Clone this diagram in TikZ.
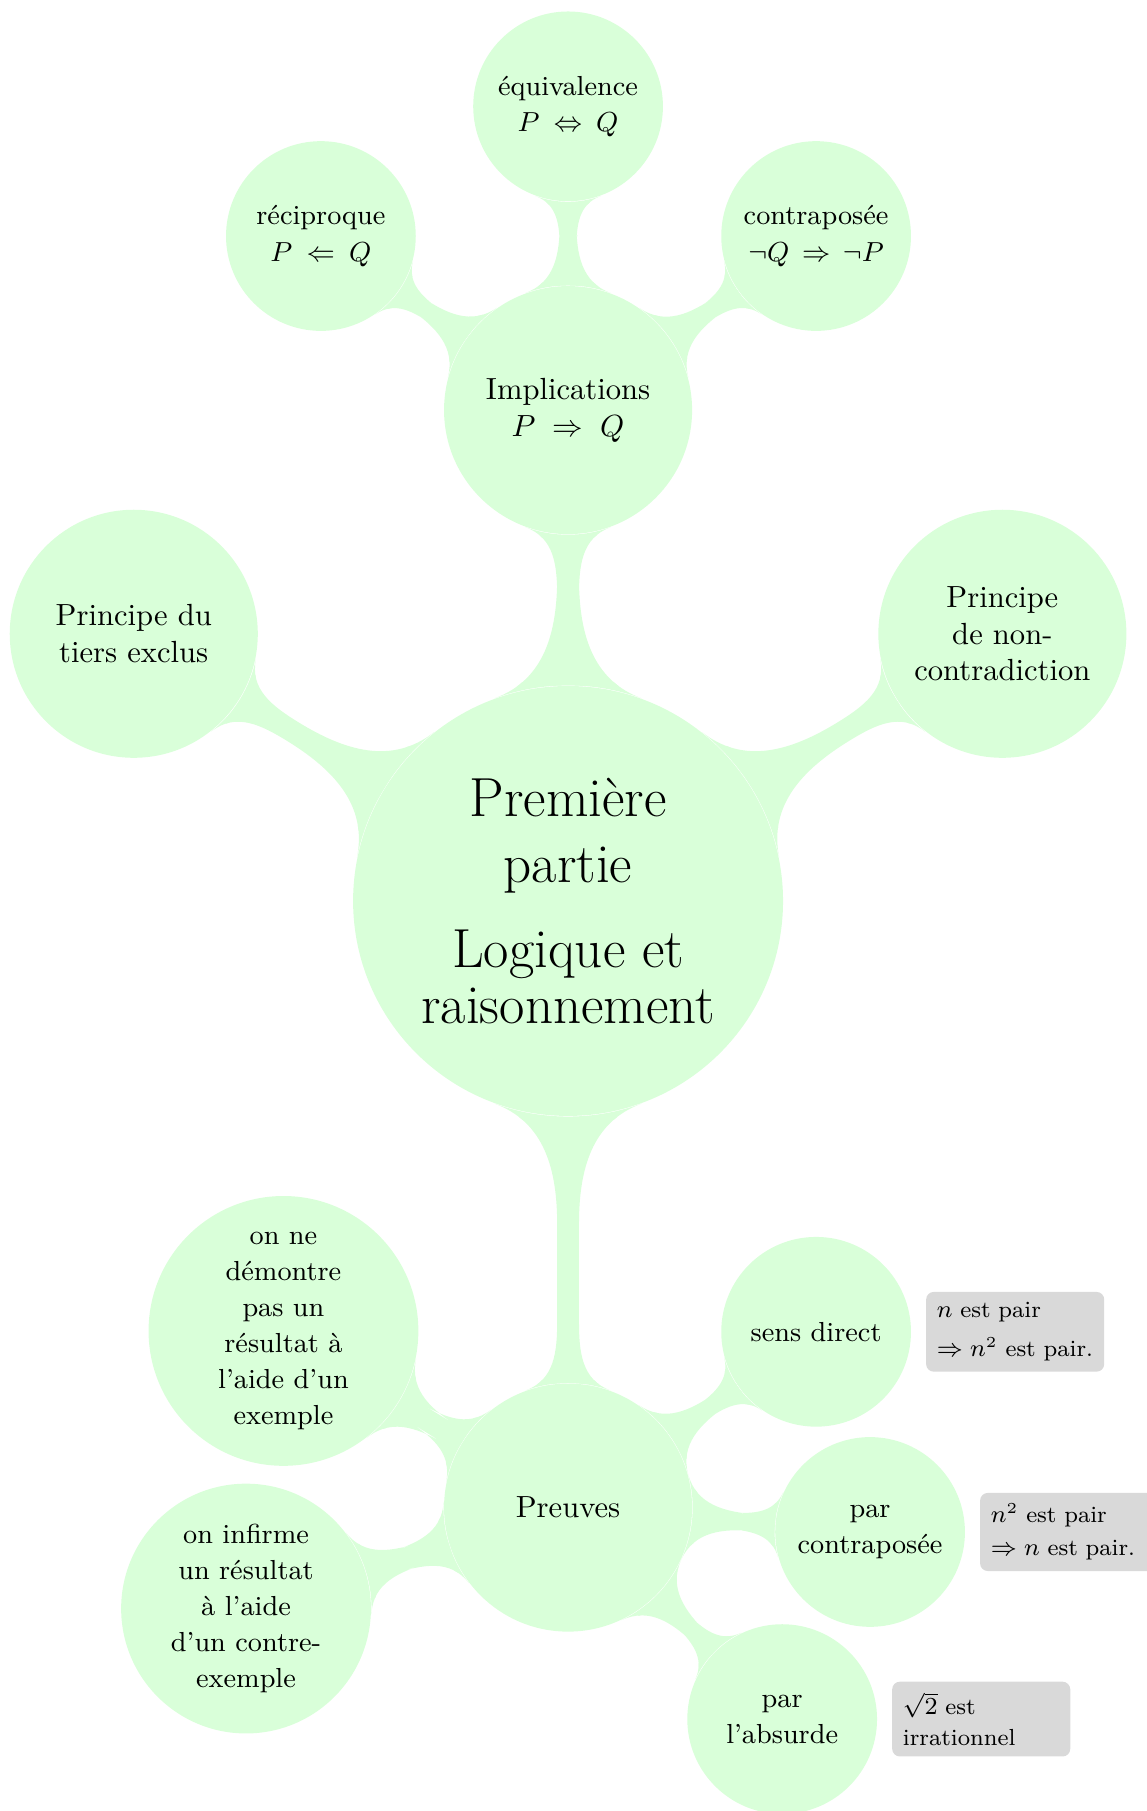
\documentclass[tikz,border=0pt]{standalone}
\usetikzlibrary{mindmap,positioning,backgrounds}
\begin{document}
\begin{tikzpicture}[idea/.style={circle, fill=green!15, align=center, inner sep=0pt},
    rootidea/.style={idea, minimum size=4.94cm, font=\fontsize{18}{21.6}\selectfont},
    mainidea/.style={idea, minimum size=2.85cm},
    subidea/.style={idea, minimum size=2.18cm, font=\fontsize{9}{11.8}\selectfont},
    remark/.style={fill=black!15, rounded corners=2.5pt, font=\fontsize{7.6}{10}\selectfont, text width=1.8cm, align=left, inner sep=3.5pt},
    link/.style={circle connection bar switch color=from (green!15) to (green!15)}]
  \useasboundingbox (-6.527,-10.456) rectangle (6.641,10.352);
  \node[rootidea] (logique) at (0,0) {Première\\partie\\[6.2pt]Logique et\\[-3.3pt]raisonnement};
  \node[mainidea] (impl) at (0,5.64) {Implications\\$P\;\Rightarrow\;Q$};
  \node[subidea] (equiv) at (0,9.13) {équivalence\\$P\:\Leftrightarrow\:Q$};
  \node[subidea] (recip) at (-2.84,7.64) {réciproque\\$P\:\Leftarrow\:Q$};
  \node[subidea] (contra) at (2.85,7.64) {contraposée\\$\neg Q\,\Rightarrow\,\neg P$};
  \node[mainidea] (tiers) at (-4.99,3.07) {Principe du\\tiers exclus};
  \node[mainidea] (noncontra) at (4.99,3.07) {Principe\\de non-\\contradiction};
  \node[mainidea] (preuves) at (0,-6.97) {Preuves};
  \node[subidea, minimum size=3.1cm] (nedem) at (-3.27,-4.94) {on ne\\démontre\\pas un\\résultat à\\l'aide d'un\\exemple};
  \node[subidea, minimum size=2.87cm] (infirme) at (-3.70,-8.13) {on infirme\\un résultat\\à l'aide\\d'un contre-\\exemple};
  \node[subidea] (direct) at (2.85,-4.95) {sens direct};
  \node[subidea] (parcontra) at (3.47,-7.25) {par\\contraposée};
  \node[subidea] (absurde) at (2.46,-9.40) {par\\l'absurde};
  \node[remark, right=1.6mm of direct] (ndirect) {$n$ est pair\\[2.6pt]$\Rightarrow n^2$ est pair.};
  \node[remark, right=1.6mm of parcontra] (ncontra) {$n^2$ est pair\\[1pt]$\Rightarrow n$ est pair.};
  \node[remark, right=1.6mm of absurde] (nabsurde) {$\sqrt{2}$ est\\irrationnel};
  \begin{scope}[on background layer]
    \path (logique) to[link] (impl);
    \path (logique) to[link] (tiers);
    \path (logique) to[link] (noncontra);
    \path (logique) to[link] (preuves);
    \path (impl) to[link] (equiv);
    \path (impl) to[link] (recip);
    \path (impl) to[link] (contra);
    \path (preuves) to[link] (nedem);
    \path (preuves) to[link] (infirme);
    \path (preuves) to[link] (direct);
    \path (preuves) to[link] (parcontra);
    \path (preuves) to[link] (absurde);
  \end{scope}
\end{tikzpicture}
\end{document}
